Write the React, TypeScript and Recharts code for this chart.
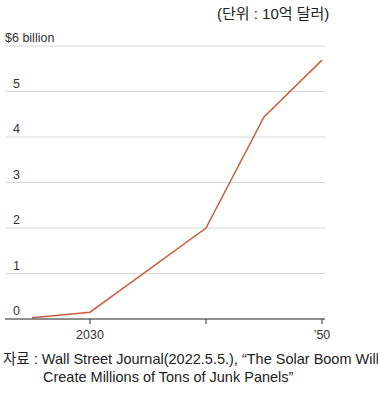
import { CartesianGrid, Line, LineChart, XAxis, YAxis } from 'recharts';

const years = [2025, 2030, 2040, 2045, 2050];
const values = [0.03, 0.15, 2.0, 4.44, 5.69];
const yTicks = [0, 1, 2, 3, 4, 5, 6];
const xTicks = [2030, 2040, 2050];
const xLabels: Record<number, string> = { 2030: '2030', 2040: '', 2050: '\u201950' };

const data = years.map((year, i) => ({ year, value: values[i] }));

const FONT = '"Liberation Sans", "Noto Sans CJK KR", sans-serif';

const YTick = (props: any) => {
  const { y, payload } = props;
  const v = payload.value;
  const label = v === 6 ? '$6 billion' : String(v);
  return (
    <text
      x={v === 6 ? 5 : 13}
      y={y - 4}
      fontSize={12.5}
      fill="#333"
      fontFamily={FONT}
      textAnchor="start"
    >
      {label}
    </text>
  );
};

const App = () => {
  return (
    <div
      style={{
        position: 'absolute',
        left: 0,
        top: 0,
        width: 378,
        height: 400,
        background: '#fff',
        fontFamily: FONT,
        color: '#222',
      }}
    >
      <div
        style={{
          position: 'absolute',
          left: 217,
          top: 2,
          fontSize: 15,
          whiteSpace: 'nowrap',
        }}
      >
        (단위 : 10억 달러)
      </div>
      <div style={{ position: 'absolute', left: 0, top: 0 }}>
        <LineChart
          width={378}
          height={400}
          data={data}
          margin={{ top: 46, right: 53, bottom: 51, left: 0 }}
        >
          <CartesianGrid vertical={false} stroke="#d8d8d8" strokeWidth={1.2} />
          <XAxis
            dataKey="year"
            type="number"
            domain={[2022.67, 2050.26]}
            ticks={xTicks}
            tickFormatter={(v: number) => xLabels[v] ?? ''}
            allowDataOverflow
            height={30}
            stroke="#333"
            tickSize={5}
            tickMargin={6}
            tick={{ fontSize: 12.5, fill: '#333', fontFamily: FONT }}
          />
          <YAxis
            domain={[0, 6]}
            ticks={yTicks}
            width={5}
            axisLine={false}
            tickLine={false}
            tick={<YTick />}
            interval={0}
          />
          <Line
            dataKey="value"
            stroke="#c95f3c"
            strokeWidth={1.5}
            dot={false}
            isAnimationActive={false}
          />
        </LineChart>
      </div>
      <div
        style={{
          position: 'absolute',
          left: 3,
          top: 350,
          fontSize: 14.5,
          lineHeight: '18px',
          whiteSpace: 'nowrap',
        }}
      >
        <div>자료 : Wall Street Journal(2022.5.5.), “The Solar Boom Will</div>
        <div style={{ paddingLeft: 40 }}>Create Millions of Tons of Junk Panels”</div>
      </div>
    </div>
  );
};

export default App;
